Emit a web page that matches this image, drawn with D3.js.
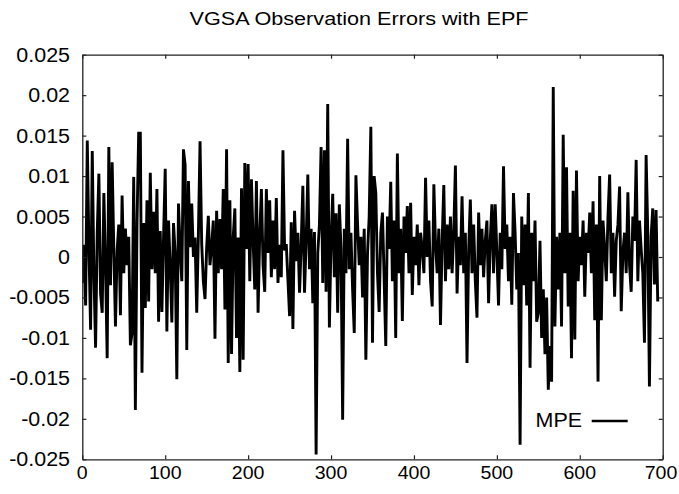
<!DOCTYPE html>
<html>
<head>
<meta charset="utf-8">
<script src="https://cdn.jsdelivr.net/npm/d3@7"></script>
<style>
  html, body { margin: 0; padding: 0; background: #fff; }
  svg { display: block; }
  text { font-family: "Liberation Sans", Arial, Helvetica, sans-serif; fill: #000; }
</style>
</head>
<body>
<svg id="chart" width="679" height="494"></svg>
<script>
// ---- Data ----
const title = "VGSA Observation Errors with EPF";
const seriesName = "MPE";
const xStep = 2;          // observation spacing on the x axis
const xTicks = [0, 100, 200, 300, 400, 500, 600, 700];
const yTicks = [-0.025, -0.02, -0.015, -0.01, -0.005, 0, 0.005, 0.01, 0.015, 0.02, 0.025];
const yTickLabels = ["-0.025", "-0.02", "-0.015", "-0.01", "-0.005", "0", "0.005", "0.01", "0.015", "0.02", "0.025"];
const mpe = [
  -0.0032, 0.0015, -0.0060, 0.0144, 0.0012, -0.0090, 0.0131, -0.0020, -0.0112, 0.0030,
  0.0103, -0.0045, -0.0069, 0.0079, -0.0010, -0.0125, 0.0136, -0.0035, 0.0117, 0.0010,
  -0.0086, 0.0008, 0.0040, -0.0072, 0.0076, -0.0020, 0.0035, -0.0010, 0.0025, -0.0109,
  -0.0094, 0.0099, -0.0189, 0.0043, 0.0153, 0.0153, -0.0143, 0.0042, -0.0063, 0.0070,
  -0.0055, 0.0104, -0.0015, 0.0056, -0.0020, 0.0084, -0.0080, 0.0032, -0.0068, 0.0025,
  0.0109, -0.0092, 0.0045, -0.0010, -0.0081, 0.0042, 0.0005, -0.0151, 0.0066, 0.0010,
  -0.0030, 0.0133, 0.0114, -0.0115, 0.0094, 0.0012, 0.0066, 0.0000, 0.0024, -0.0069,
  0.0027, 0.0143, 0.0016, -0.0030, -0.0052, 0.0012, 0.0051, -0.0010, 0.0013, 0.0045,
  -0.0101, 0.0057, -0.0020, 0.0047, -0.0015, 0.0084, -0.0065, 0.0133, -0.0131, 0.0070,
  -0.0120, 0.0024, 0.0060, -0.0100, 0.0024, -0.0142, 0.0085, -0.0127, 0.0116, 0.0010,
  0.0115, -0.0030, 0.0096, 0.0020, -0.0040, 0.0094, -0.0069, 0.0028, 0.0084, -0.0010,
  -0.0043, 0.0084, 0.0005, 0.0070, -0.0025, 0.0045, -0.0015, 0.0073, -0.0032, 0.0015,
  -0.0025, 0.0132, 0.0008, 0.0016, -0.0028, -0.0073, 0.0043, -0.0089, 0.0057, -0.0005,
  0.0030, -0.0044, 0.0015, 0.0088, -0.0044, 0.0020, 0.0102, -0.0015, 0.0035, -0.0057,
  0.0031, -0.0244, 0.0005, 0.0040, 0.0136, -0.0032, 0.0132, -0.0043, 0.0189, -0.0087,
  0.0020, 0.0078, -0.0025, 0.0054, -0.0069, 0.0065, 0.0010, -0.0201, 0.0035, -0.0020,
  0.0146, -0.0015, 0.0030, -0.0040, -0.0094, 0.0101, 0.0040, -0.0010, 0.0025, -0.0050,
  0.0035, -0.0127, 0.0005, 0.0050, 0.0161, -0.0106, 0.0100, 0.0079, -0.0020, -0.0068,
  0.0030, 0.0055, -0.0025, -0.0110, 0.0050, 0.0010, 0.0093, -0.0030, 0.0045, -0.0100,
  0.0128, -0.0020, 0.0035, -0.0079, 0.0050, 0.0005, 0.0063, -0.0020, 0.0067, -0.0047,
  0.0025, -0.0010, 0.0040, -0.0035, 0.0030, 0.0010, -0.0020, 0.0098, 0.0000, 0.0045,
  -0.0030, -0.0061, 0.0090, 0.0015, -0.0020, 0.0035, -0.0084, 0.0020, 0.0089, -0.0030,
  0.0040, -0.0015, 0.0050, -0.0020, 0.0030, 0.0113, -0.0045, 0.0025, -0.0010, 0.0075,
  -0.0020, 0.0030, -0.0131, 0.0010, 0.0071, -0.0020, 0.0040, -0.0030, -0.0075, 0.0055,
  -0.0010, 0.0035, -0.0025, 0.0020, 0.0045, -0.0057, 0.0020, 0.0065, -0.0020, 0.0065,
  0.0005, -0.0060, 0.0030, -0.0015, 0.0112, 0.0010, 0.0040, -0.0030, 0.0025, -0.0059,
  0.0079, 0.0030, -0.0040, 0.0005, -0.0232, 0.0050, -0.0035, 0.0040, -0.0060, 0.0079,
  -0.0137, 0.0030, -0.0030, 0.0045, -0.0080, -0.0069, 0.0020, -0.0100, -0.0040, -0.0120,
  -0.0050, -0.0164, -0.0110, -0.0154, 0.0210, -0.0086, 0.0025, -0.0040, 0.0030, -0.0086,
  0.0151, -0.0020, 0.0111, -0.0061, 0.0030, -0.0125, 0.0082, -0.0102, 0.0107, -0.0030,
  0.0025, -0.0010, 0.0045, -0.0049, 0.0030, 0.0005, 0.0055, -0.0020, 0.0069, -0.0078,
  0.0040, -0.0154, 0.0100, -0.0078, 0.0045, 0.0010, -0.0030, 0.0050, 0.0102, -0.0020,
  0.0030, -0.0049, 0.0020, 0.0040, 0.0087, -0.0067, 0.0005, 0.0030, -0.0020, 0.0080,
  -0.0010, -0.0043, 0.0050, 0.0020, 0.0120, -0.0030, 0.0045, 0.0010, -0.0020, -0.0106,
  0.0126, 0.0030, -0.0160, 0.0025, 0.0060, -0.0034, 0.0058, -0.0055
];

// ---- Layout ----
const W = 679, H = 494;
const plot = { left: 82.3, right: 662.7, top: 54.7, bottom: 459.3 };

const svg = d3.select("#chart");

const x = d3.scaleLinear().domain([0, 700]).range([plot.left, plot.right]);
const y = d3.scaleLinear().domain([-0.025, 0.025]).range([plot.bottom, plot.top]);

function label(g, tx, ty, txt, anchor, size, stretch) {
  g.append("text")
    .attr("transform", `translate(${tx},${ty}) scale(${stretch},1)`)
    .attr("text-anchor", anchor)
    .style("font-size", size + "px")
    .text(txt);
}

// clip
svg.append("clipPath").attr("id", "clip")
  .append("rect")
  .attr("x", plot.left).attr("y", plot.top)
  .attr("width", plot.right - plot.left).attr("height", plot.bottom - plot.top);

// data line
const data = mpe.map((v, i) => ({ x: i * xStep, y: v }));
const line = d3.line().x(d => x(d.x)).y(d => y(d.y));
svg.append("path")
  .datum(data)
  .attr("clip-path", "url(#clip)")
  .attr("fill", "none")
  .attr("stroke", "#000")
  .attr("stroke-width", 2.9)
  .attr("stroke-linejoin", "miter")
  .attr("stroke-miterlimit", 2)
  .attr("d", line);

// axes: ticks inward on all four sides (mirrored)
const tickLen = 4;
const axisColor = "#222";
const axBottom = d3.axisBottom(x).tickValues(xTicks).tickSize(-tickLen).tickSizeOuter(0).tickFormat("");
const axTop = d3.axisTop(x).tickValues(xTicks).tickSize(-tickLen).tickSizeOuter(0).tickFormat("");
const axLeft = d3.axisLeft(y).tickValues(yTicks).tickSize(-tickLen).tickSizeOuter(0).tickFormat("");
const axRight = d3.axisRight(y).tickValues(yTicks).tickSize(-tickLen).tickSizeOuter(0).tickFormat("");

function styleAxis(g) {
  g.selectAll("path.domain").attr("stroke", axisColor).attr("stroke-width", 1.3);
  g.selectAll(".tick line").attr("stroke", axisColor).attr("stroke-width", 1.2);
}
svg.append("g").attr("transform", `translate(0,${plot.bottom})`).call(axBottom).call(styleAxis);
svg.append("g").attr("transform", `translate(0,${plot.top})`).call(axTop).call(styleAxis);
svg.append("g").attr("transform", `translate(${plot.left},0)`).call(axLeft).call(styleAxis);
svg.append("g").attr("transform", `translate(${plot.right},0)`).call(axRight).call(styleAxis);

// tick labels
const labels = svg.append("g");
xTicks.forEach(t => label(labels, Math.min(x(t), 661), 479, String(t), "middle", 19, 1.03));
yTicks.forEach((t, i) => label(labels, 70, y(t) + 7, yTickLabels[i], "end", 19.5, 1.1));

// title
label(svg, 359, 25, title, "middle", 18.5, 1.17);

// legend
const lg = svg.append("g");
label(lg, 582, 427, seriesName, "end", 19.5, 1.1);
lg.append("line")
  .attr("x1", 591.7).attr("x2", 627.7)
  .attr("y1", 421).attr("y2", 421)
  .attr("stroke", "#000").attr("stroke-width", 2.3);
</script>
</body>
</html>
